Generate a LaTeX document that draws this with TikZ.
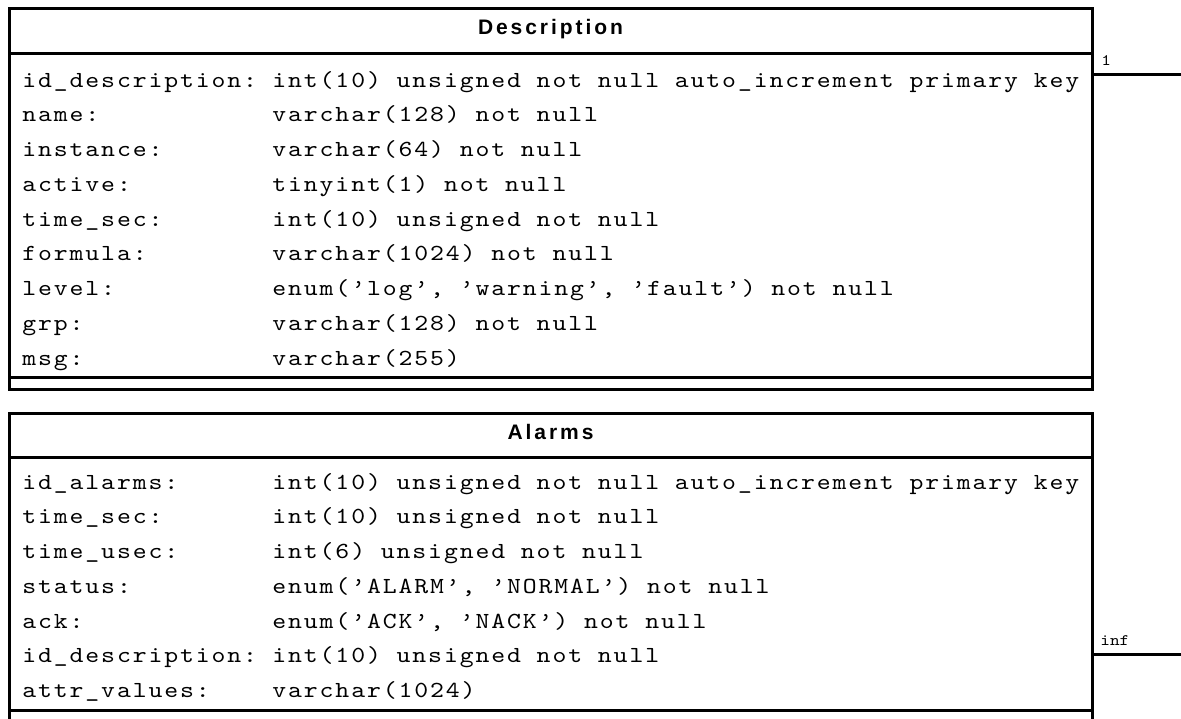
\documentclass[tikz,border=0pt]{standalone}
\usepackage{fontspec}
\setmainfont{Liberation Sans}
\newfontfamily\fieldfont[Extension=.otf, FakeStretch=1.15, LetterSpace=8.2]{lmmono10-regular}
\newfontfamily\multfont[Extension=.otf, FakeStretch=1.15]{lmmono10-regular}
\newfontfamily\headfont[LetterSpace=14]{Liberation Sans}
\usetikzlibrary{positioning}
\tikzset{>=latex}
\tikzset{
  frame/.style={draw, line width=1.5pt, inner sep=0pt, outer sep=0pt,
    minimum width=541.5pt, anchor=north west},
  rule/.style={line width=1.5pt},
  link/.style={line width=1.5pt},
  headtext/.style={anchor=base, inner sep=0pt, font=\headfont\bfseries\fontsize{10.5}{12}\selectfont},
  fieldtext/.style={anchor=base west, inner sep=0pt, font=\fieldfont\fontsize{11.5}{13}\selectfont},
  multtext/.style={anchor=base west, inner sep=0pt, font=\multfont\fontsize{8}{9}\selectfont}
}

\begin{document}
\begin{tikzpicture}[x=0.5pt, y=-0.5pt]
        \useasboundingbox (0,0) rectangle (1181,718);
        \clip (0,0) rectangle (1181,718);
        \node[frame, minimum height=190.5pt] (desc) at (9,8) {};
        \node[frame, minimum height=180pt] (alarms) at (9,413) {};
        \draw[rule] (9,53) -- (1092,53) (9,377) -- (1092,377);
        \draw[rule] (9,457) -- (1092,457) (9,710) -- (1092,710);
        \node[headtext] (deschead) at (550.5,34.5) {Description};
        \node[headtext] (alarmshead) at (550.5,439.5) {Alarms};
        \foreach \fname/\ftype [count=\i from 0] in {
            id\_description:/{int(10) unsigned not null auto\_increment primary key},
            name:/{varchar(128) not null},
            instance:/{varchar(64) not null},
            active:/{tinyint(1) not null},
            time\_sec:/{int(10) unsigned not null},
            formula:/{varchar(1024) not null},
            level:/{enum(’log’, ’warning’, ’fault’) not null},
            grp:/{varchar(128) not null},
            msg:/{varchar(255)}} {
          \node[fieldtext] (dname\i) at (22,{87+34.75*\i}) {\fname};
          \node[fieldtext] (dtype\i) at (272,{87+34.75*\i}) {\ftype};
        }
        \foreach \fname/\ftype [count=\i from 0] in {
            id\_alarms:/{int(10) unsigned not null auto\_increment primary key},
            time\_sec:/{int(10) unsigned not null},
            time\_usec:/{int(6) unsigned not null},
            status:/{enum(’ALARM’, ’NORMAL’) not null},
            ack:/{enum(’ACK’, ’NACK’) not null},
            id\_description:/{int(10) unsigned not null},
            attr\_values:/{varchar(1024)}} {
          \node[fieldtext] (aname\i) at (22,{489+34.75*\i}) {\fname};
          \node[fieldtext] (atype\i) at (272,{489+34.75*\i}) {\ftype};
        }
        \coordinate (descend) at (1181,74);
        \coordinate (alarmsend) at (1181,654);
        \draw[link] (desc.east |- descend) -- (descend);
        \draw[link] (alarms.east |- alarmsend) -- (alarmsend);
        \node[multtext] (descmult) at (1101,65) {1};
        \node[multtext] (alarmsmult) at (1100,645) {inf};
      \end{tikzpicture}
\end{document}
